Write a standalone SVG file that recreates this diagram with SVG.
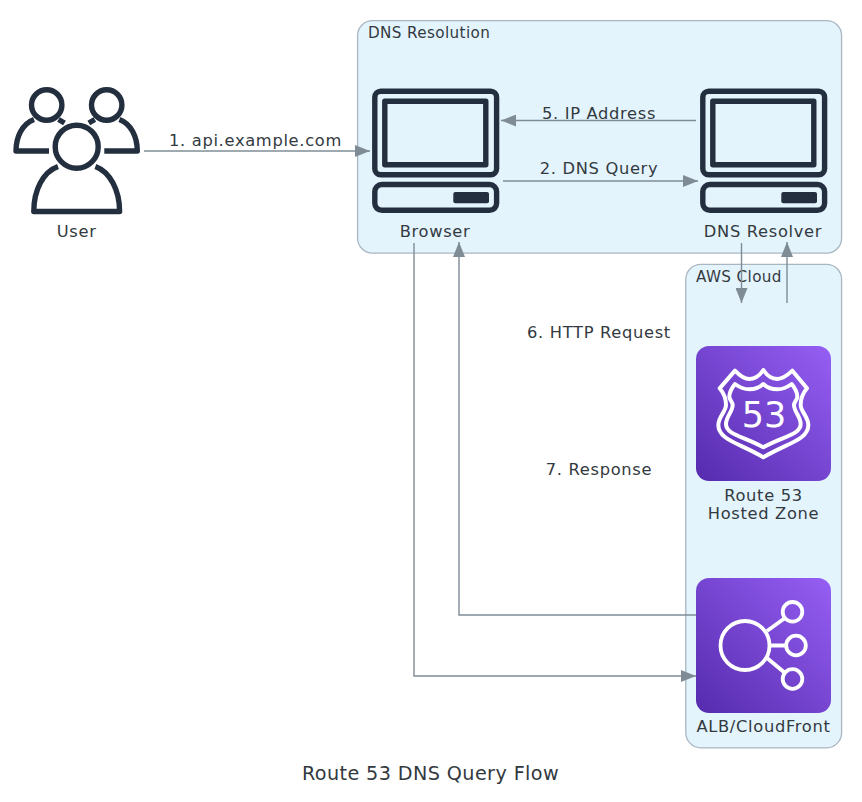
<svg xmlns="http://www.w3.org/2000/svg" width="862" height="802" viewBox="0 0 862 802">
<style>
text{font-family:"DejaVu Sans",sans-serif;font-size:16.3px;letter-spacing:.68px;fill:#333a3f;text-anchor:middle}
.cl{font-size:15.2px;letter-spacing:.38px;text-anchor:start}
.cluster{fill:#e3f4fd;stroke:#a9b6c1;stroke-width:1.3}
.edge{fill:none;stroke:#7f8c96;stroke-width:1.4}
.dk{fill:none;stroke:#232f3e;stroke-width:5.4;stroke-linejoin:round}
.dk2{fill:none;stroke:#232f3e;stroke-width:5.4;stroke-linejoin:round}
.wh{fill:none;stroke:#fff;stroke-linejoin:round}
</style>
<defs>
<marker id="a" markerUnits="userSpaceOnUse" markerWidth="16" markerHeight="12" refX="15" refY="6" orient="auto"><path d="M0 0L15 6L0 12Z" fill="#7f8c96"/></marker>
<linearGradient id="g" x1="0" y1="1" x2="1" y2="0"><stop offset="0" stop-color="#552bad"/><stop offset="1" stop-color="#965ff4"/></linearGradient>
<g id="pc"><rect class="dk" x="374.8" y="91.2" width="121.8" height="83.6" rx="6"/><rect class="dk" x="384.8" y="101.2" width="101" height="63.6"/><rect class="dk" x="374.8" y="184.5" width="121.8" height="25.8" rx="7"/><rect x="453.3" y="192" width="35.7" height="11.3" rx="2" fill="#232f3e"/></g>
</defs>
<rect width="862" height="802" fill="#fff"/>
<g id="cluster-dns"><rect class="cluster" x="357.6" y="20.6" width="484" height="232.6" rx="15"/><text class="cl" x="368" y="38">DNS Resolution</text></g>
<g id="cluster-aws"><rect class="cluster" x="685.8" y="264.4" width="155.8" height="483.4" rx="15"/><text class="cl" x="696" y="282">AWS Cloud</text></g>
<g id="user">
<circle class="dk2" cx="46.7" cy="105" r="15.2"/><circle class="dk2" cx="106.7" cy="105" r="15.2"/>
<path class="dk2" d="M34 119.500C22 124 16 137 16 151H49M58.500 119.500L64.500 123"/>
<path class="dk2" d="M119.400 119.500C131.300 124 137.300 137 137.300 151H104.300M94.800 119.500L88.800 123"/>
<circle class="dk" cx="76.700" cy="146.700" r="21.500"/>
<path class="dk" d="M58 166.500C43 172 33.800 190 33.800 211.500H119.600C119.600 190 110 172 95.400 166.500"/>
<text x="76.700" y="237">User</text>
</g>
<g id="browser"><use href="#pc"/><text x="435" y="237">Browser</text></g>
<g id="resolver"><use href="#pc" x="328"/><text x="763" y="237">DNS Resolver</text></g>
<g id="route53">
<rect x="696" y="346" width="135" height="135" rx="13" fill="url(#g)"/>
<g transform="translate(680 230) scale(.33333)">
<path class="wh" stroke-width="12" d="M165 422C180 438 195 447 208 447C225 447 240 435 250 420C260 435 275 447 292 447C305 447 320 438 337 422L381 475C370 488 362 505 362 525C362 545 385 560 385 585C385 630 320 640 250 682C180 640 115 630 115 585C115 560 138 545 138 525C138 505 130 488 119 475Z"/>
<path class="wh" stroke-width="12" d="M165 462C180 473 195 478 208 478C225 478 240 472 250 462C260 472 275 478 292 478C305 478 320 473 335 462C348 478 352 490 352 500C352 510 342 515 342 525C342 545 362 560 362 582C362 615 305 620 250 652C195 620 138 615 138 582C138 560 158 545 158 525C158 515 148 510 148 500C148 490 152 478 165 462Z"/>
</g>
<text x="764" y="427" style="font-size:35px;fill:#fff;letter-spacing:0">53</text>
<text x="763.500" y="501">Route 53</text><text x="763.500" y="519">Hosted Zone</text>
</g>
<g id="alb">
<rect x="696" y="578" width="135" height="135" rx="13" fill="url(#g)"/>
<g class="wh" stroke-width="3.800">
<circle cx="745" cy="645.500" r="24.500"/><circle cx="792.500" cy="611.800" r="9.800"/><circle cx="796" cy="645.500" r="9.800"/><circle cx="792.500" cy="679" r="9.800"/>
<path d="M767 631L785 618M770 645.500H786M767 658L785 673"/>
</g>
<text x="763.500" y="732">ALB/CloudFront</text>
</g>
<g id="connectors">
<path class="edge" marker-end="url(#a)" d="M144 151H370"/>
<path class="edge" marker-end="url(#a)" d="M696 120.500H501"/>
<path class="edge" marker-end="url(#a)" d="M503 181H698"/>
<path class="edge" marker-end="url(#a)" d="M741.500 243V303"/>
<path class="edge" marker-end="url(#a)" d="M787 303V242"/>
<path class="edge" marker-end="url(#a)" d="M696 615H459V242"/>
<path class="edge" marker-end="url(#a)" d="M414 243V676H696"/>
<text x="255.500" y="146">1. api.example.com</text>
<text x="599" y="119">5. IP Address</text>
<text x="599" y="174">2. DNS Query</text>
<text x="599" y="338">6. HTTP Request</text>
<text x="599" y="475">7. Response</text>
</g>
<text id="title" x="430.500" y="780" style="font-size:19.200px;letter-spacing:.4px">Route 53 DNS Query Flow</text>
</svg>
